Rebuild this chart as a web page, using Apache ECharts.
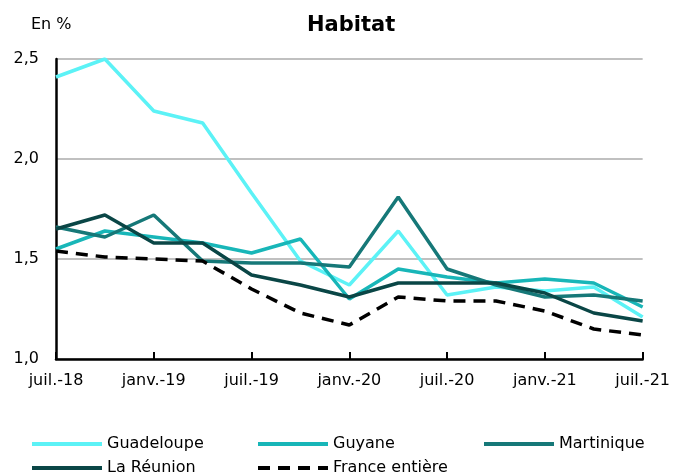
<!DOCTYPE html>
<html>
<head>
<meta charset="utf-8">
<script src="https://cdn.jsdelivr.net/npm/echarts@6/dist/echarts.min.js"></script>
<style>
  html, body { margin: 0; padding: 0; background: #fff; }
  #chart { width: 673px; height: 474px; }
</style>
</head>
<body>
<div id="chart"></div>
<script>
// trimestres, de juil.-18 à juil.-21
const quarters = ['juil.-18', 'oct.-18', 'janv.-19', 'avr.-19', 'juil.-19', 'oct.-19',
  'janv.-20', 'avr.-20', 'juil.-20', 'oct.-20', 'janv.-21', 'avr.-21', 'juil.-21'];

const guadeloupe = [2.41, 2.50, 2.24, 2.18, 1.83, 1.49, 1.37, 1.64, 1.32, 1.36, 1.34, 1.36, 1.21];
const guyane     = [1.55, 1.64, 1.61, 1.58, 1.53, 1.60, 1.30, 1.45, 1.41, 1.38, 1.40, 1.38, 1.26];
const martinique = [1.66, 1.61, 1.72, 1.49, 1.48, 1.48, 1.46, 1.81, 1.45, 1.37, 1.31, 1.32, 1.29];
const reunion    = [1.65, 1.72, 1.58, 1.58, 1.42, 1.37, 1.31, 1.38, 1.38, 1.38, 1.33, 1.23, 1.19];
const france     = [1.54, 1.51, 1.50, 1.49, 1.35, 1.23, 1.17, 1.31, 1.29, 1.29, 1.24, 1.15, 1.12];

const font = 'DejaVu Sans';

const chart = echarts.init(document.getElementById('chart'), null, { renderer: 'canvas' });

function line(name, data, color, dashed) {
  return {
    name: name,
    type: 'line',
    data: data,
    showSymbol: false,
    symbol: 'none',
    lineStyle: { color: color, width: 3.5, type: dashed ? [12, 8] : 'solid' },
    itemStyle: { color: color }
  };
}

function legendAt(name, left, top) {
  return {
    data: [name],
    left: left,
    top: top,
    padding: 0,
    itemWidth: 70,
    itemHeight: 14,
    itemStyle: { opacity: 0 },
    lineStyle: { width: 4 },
    textStyle: { fontFamily: font, fontSize: 16, color: '#000' }
  };
}

chart.setOption({
  animation: false,
  title: [
    { text: 'Habitat', left: 302, top: 10,
      textStyle: { fontFamily: font, fontSize: 21, fontWeight: 'bold', color: '#000' } },
    { text: 'En %', left: 26, top: 12,
      textStyle: { fontFamily: font, fontSize: 16, fontWeight: 'normal', color: '#000' } }
  ],
  grid: { left: 56, right: 28, top: 59, bottom: 115 },
  xAxis: {
    type: 'category',
    data: quarters,
    boundaryGap: false,
    axisLine: { lineStyle: { color: '#000', width: 2.5 } },
    axisTick: { inside: true, length: 7, interval: 1, lineStyle: { color: '#000', width: 2 } },
    axisLabel: { interval: 1, margin: 14, fontFamily: font, fontSize: 16, color: '#000' },
    splitLine: { show: false }
  },
  yAxis: {
    type: 'value',
    min: 1,
    max: 2.5,
    interval: 0.5,
    axisLine: { show: true, lineStyle: { color: '#000', width: 2.5 } },
    axisTick: { show: false },
    axisLabel: {
      margin: 17, fontFamily: font, fontSize: 16, color: '#000',
      formatter: v => v.toFixed(1).replace('.', ',')
    },
    splitLine: { lineStyle: { color: '#c0c0c0', width: 2 } }
  },
  legend: [
    legendAt('Guadeloupe', 30, 436),
    legendAt('Guyane', 256, 436),
    legendAt('Martinique', 482, 436),
    legendAt('La Réunion', 30, 460),
    legendAt('France entière', 256, 460)
  ],
  series: [
    line('Guadeloupe', guadeloupe, '#5cf2f6'),
    line('Guyane', guyane, '#18b6b8'),
    line('Martinique', martinique, '#167878'),
    line('La Réunion', reunion, '#0a4646'),
    line('France entière', france, '#000', true)
  ]
});
</script>
</body>
</html>
